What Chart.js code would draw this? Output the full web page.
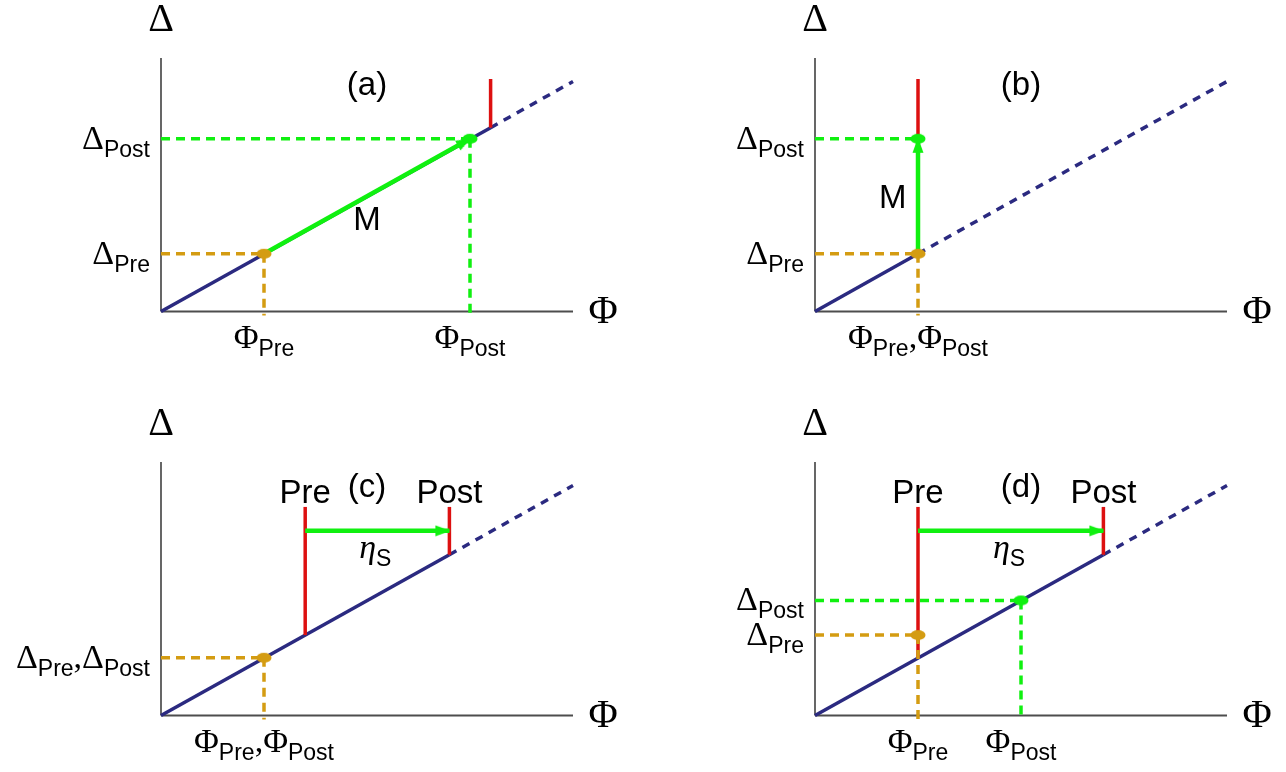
<!DOCTYPE html>
<html>
<head>
<meta charset="utf-8">
<script src="https://cdn.jsdelivr.net/npm/chart.js@4.4.0/dist/chart.umd.min.js"></script>
<style>
  html, body { margin: 0; padding: 0; background: #fff; overflow: hidden; }
  #wrap { position: relative; width: 1286px; height: 772px; }
  .panel { position: absolute; }
</style>
</head>
<body>
<div id="wrap">
  <div class="panel" style="left:0;top:0;width:640px;height:400px"><canvas id="pa"></canvas></div>
  <div class="panel" style="left:654px;top:0;width:632px;height:400px"><canvas id="pb"></canvas></div>
  <div class="panel" style="left:0;top:404px;width:640px;height:368px"><canvas id="pc"></canvas></div>
  <div class="panel" style="left:654px;top:404px;width:632px;height:368px"><canvas id="pd"></canvas></div>
</div>
<script>
// Φ along x, Δ along y (arbitrary units, same scale on both axes)

// panel (a)
const aLine = [[0, 0], [8, 4.46]];
const aLineDash = [[8, 4.46], [10, 5.58]];
const aRed = [[8, 4.46], [8, 5.64]];
const aPre = [2.5, 1.4];
const aPost = [7.5, 4.19];
const aPhiTicks = [[2.5, 'Φ_{Pre}'], [7.5, 'Φ_{Post}']];
const aDeltaTicks = [[1.4, 'Δ_{Pre}'], [4.19, 'Δ_{Post}']];

// panel (b)
const bLine = [[0, 0], [2.5, 1.4]];
const bLineDash = [[2.5, 1.4], [10, 5.58]];
const bRed = [[2.5, 4.19], [2.5, 5.64]];
const bPre = [2.5, 1.4];
const bPost = [2.5, 4.19];
const bPhiTicks = [[2.5, 'Φ_{Pre},Φ_{Post}']];
const bDeltaTicks = [[1.4, 'Δ_{Pre}'], [4.19, 'Δ_{Post}']];

// panel (c)
const cLine = [[0, 0], [7, 3.9]];
const cLineDash = [[7, 3.9], [10, 5.58]];
const cRedPre = [[3.5, 1.95], [3.5, 5.06]];
const cRedPost = [[7, 3.9], [7, 5.06]];
const cShift = [[3.5, 4.48], [7, 4.48]];
const cPre = [2.5, 1.4];
const cPhiTicks = [[2.5, 'Φ_{Pre},Φ_{Post}']];
const cDeltaTicks = [[1.4, 'Δ_{Pre},Δ_{Post}']];

// panel (d)
const dLine = [[0, 0], [7, 3.9]];
const dLineDash = [[7, 3.9], [10, 5.58]];
const dRedPre = [[2.5, 1.4], [2.5, 5.06]];
const dRedPost = [[7, 3.9], [7, 5.06]];
const dShift = [[2.5, 4.48], [7, 4.48]];
const dPre = [2.5, 1.95];
const dPost = [5, 2.79];
const dPhiTicks = [[2.5, 'Φ_{Pre}'], [5, 'Φ_{Post}']];
const dDeltaTicks = [[1.95, 'Δ_{Pre}'], [2.79, 'Δ_{Post}']];

const NAVY = '#2b2a80', RED = '#dd1010', GREEN = '#10f010', GOLD = '#d49c12';
const SERIF = '"Liberation Serif", "Times New Roman", serif';
const SANS = '"Liberation Sans", Arial, sans-serif';
const AXIS_FONT = '40px ' + SERIF;
const TICK_FONT = '34px ' + SERIF;
const SUB_FONT = '23px ' + SANS;
const NOTE_FONT = '33px ' + SANS;
const ETA_FONT = 'italic 34px ' + SERIF;

// little canvases used as point styles
function ellipse(color) {
  const c = document.createElement('canvas');
  c.width = 16; c.height = 12;
  const g = c.getContext('2d');
  g.fillStyle = color;
  g.beginPath();
  g.ellipse(8, 6, 7.5, 5, 0, 0, 2 * Math.PI);
  g.fill();
  return c;
}
// arrow head pointing up, tip at the centre of the canvas
const HEAD = (function () {
  const c = document.createElement('canvas');
  c.width = 12; c.height = 30;
  const g = c.getContext('2d');
  g.fillStyle = GREEN;
  g.beginPath();
  g.moveTo(6, 14); g.lineTo(11.5, 29); g.lineTo(0.5, 29);
  g.closePath();
  g.fill();
  return c;
})();

const xy = p => ({x: p[0], y: p[1]});

function seg(points, color, width, dash, order) {
  return {data: points.map(xy), showLine: true, borderColor: color, borderWidth: width,
    borderDash: dash || [], pointRadius: 0, clip: false, order: order};
}
function dot(p, color) {
  return {data: [xy(p)], showLine: false, pointStyle: ellipse(color), pointRadius: 6, clip: false, order: 0};
}
function arrow(line) {
  const [from, to] = line;
  const ang = Math.atan2(to[1] - from[1], to[0] - from[0]) * 180 / Math.PI;
  return {data: line.map(xy), showLine: true, borderColor: GREEN, borderWidth: 4.5,
    pointRadius: [0, 6], pointStyle: ['circle', HEAD], pointRotation: [0, 90 - ang], clip: false, order: 1};
}
// dashed guides from a point back to the axes
function guides(p, color, order, withVertical) {
  const out = [seg([[0, p[1]], p], color, 3.5, [9, 6], order)];
  if (withVertical !== false) out.push(seg([p, [p[0], -0.1]], color, 3.5, [9, 6], order));
  return out;
}
function axes() {
  return [
    seg([[0, 0], [10, 0]], '#4d4d4d', 2, [], 9),
    seg([[0, 0], [0, 6.15]], '#000', 1.2, [], 9)
  ];
}

function drawRich(ctx, str, x, y, align, mainFont, subFont) {
  const runs = [];
  str.replace(/_\{([^}]*)\}|([^_]+)/g, (m, sub, main) => {
    runs.push(sub !== undefined ? {t: sub, sub: true} : {t: main, sub: false});
  });
  let w = 0;
  runs.forEach(r => { ctx.font = r.sub ? subFont : mainFont; r.w = ctx.measureText(r.t).width; w += r.w; });
  let cx = align === 'center' ? x - w / 2 : align === 'right' ? x - w : x;
  ctx.textAlign = 'left';
  ctx.textBaseline = 'alphabetic';
  runs.forEach(r => {
    ctx.font = r.sub ? subFont : mainFont;
    ctx.fillText(r.t, cx, r.sub ? y + 8 : y);
    cx += r.w;
  });
}

const textPlugin = {
  id: 'texts',
  afterDraw(chart, args, opts) {
    const {ctx, chartArea: area, scales: {x, y}} = chart;
    ctx.save();
    ctx.fillStyle = '#000';
    drawRich(ctx, 'Δ', x.getPixelForValue(0), y.getPixelForValue(6.15) - 27, 'center', AXIS_FONT, SUB_FONT);
    drawRich(ctx, 'Φ', x.getPixelForValue(10) + 30, area.bottom + 11, 'center', AXIS_FONT, SUB_FONT);
    opts.phiTicks.forEach(([v, s]) =>
      drawRich(ctx, s, x.getPixelForValue(v), area.bottom + 36.5, 'center', TICK_FONT, SUB_FONT));
    opts.deltaTicks.forEach(([v, s]) =>
      drawRich(ctx, s, area.left - 11, y.getPixelForValue(v) + 10, 'right', TICK_FONT, SUB_FONT));
    opts.notes.forEach(([px, py, s, font]) =>
      drawRich(ctx, s, x.getPixelForValue(px), y.getPixelForValue(py), 'center', font || NOTE_FONT, SUB_FONT));
    ctx.restore();
  }
};

function makePanel(id, datasets, texts) {
  const cv = document.getElementById(id);
  const W = cv.parentNode.clientWidth, H = cv.parentNode.clientHeight;
  return new Chart(cv, {
    type: 'scatter',
    data: {datasets: datasets},
    options: {
      responsive: true,
      maintainAspectRatio: false,
      animation: false,
      events: [],
      layout: {padding: {left: 161, top: 58, right: W - 573, bottom: H - 311.5}},
      scales: {
        x: {type: 'linear', min: 0, max: 10, display: false},
        y: {type: 'linear', min: 0, max: 6.15, display: false}
      },
      plugins: {legend: {display: false}, tooltip: {enabled: false}, texts: texts}
    },
    plugins: [textPlugin]
  });
}

makePanel('pa', [
  dot(aPre, GOLD), dot(aPost, GREEN),
  arrow([aPre, aPost]),
  seg(aRed, RED, 3.5, [], 2),
  seg(aLine, NAVY, 3.5, [], 3),
  seg(aLineDash, NAVY, 3.5, [8, 7], 3),
  ...guides(aPre, GOLD, 4), ...guides(aPost, GREEN, 4),
  ...axes()
], {phiTicks: aPhiTicks, deltaTicks: aDeltaTicks,
    notes: [[5, 5.25, '(a)'], [5, 1.98, 'M']]});

makePanel('pb', [
  dot(bPre, GOLD), dot(bPost, GREEN),
  arrow([bPre, bPost]),
  seg(bRed, RED, 3.5, [], 2),
  seg(bLine, NAVY, 3.5, [], 3),
  seg(bLineDash, NAVY, 3.5, [8, 7], 3),
  ...guides(bPre, GOLD, 4), ...guides(bPost, GREEN, 4, false),
  ...axes()
], {phiTicks: bPhiTicks, deltaTicks: bDeltaTicks,
    notes: [[5, 5.25, '(b)'], [1.89, 2.51, 'M']]});

makePanel('pc', [
  dot(cPre, GOLD),
  arrow(cShift),
  seg(cRedPre, RED, 3.5, [], 2), seg(cRedPost, RED, 3.5, [], 2),
  seg(cLine, NAVY, 3.5, [], 3),
  seg(cLineDash, NAVY, 3.5, [8, 7], 3),
  ...guides(cPre, GOLD, 4),
  ...axes()
], {phiTicks: cPhiTicks, deltaTicks: cDeltaTicks,
    notes: [[3.5, 5.16, 'Pre'], [5, 5.3, '(c)'], [7, 5.16, 'Post'], [5.2, 3.82, 'η_{S}', ETA_FONT]]});

makePanel('pd', [
  dot(dPre, GOLD), dot(dPost, GREEN),
  arrow(dShift),
  ...guides(dPre, GOLD, 1.5),
  seg(dRedPre, RED, 3.5, [], 2), seg(dRedPost, RED, 3.5, [], 2),
  seg(dLine, NAVY, 3.5, [], 3),
  seg(dLineDash, NAVY, 3.5, [8, 7], 3),
  ...guides(dPost, GREEN, 4),
  ...axes()
], {phiTicks: dPhiTicks, deltaTicks: dDeltaTicks,
    notes: [[2.5, 5.16, 'Pre'], [5, 5.3, '(d)'], [7, 5.16, 'Post'], [4.71, 3.82, 'η_{S}', ETA_FONT]]});
</script>
</body>
</html>
